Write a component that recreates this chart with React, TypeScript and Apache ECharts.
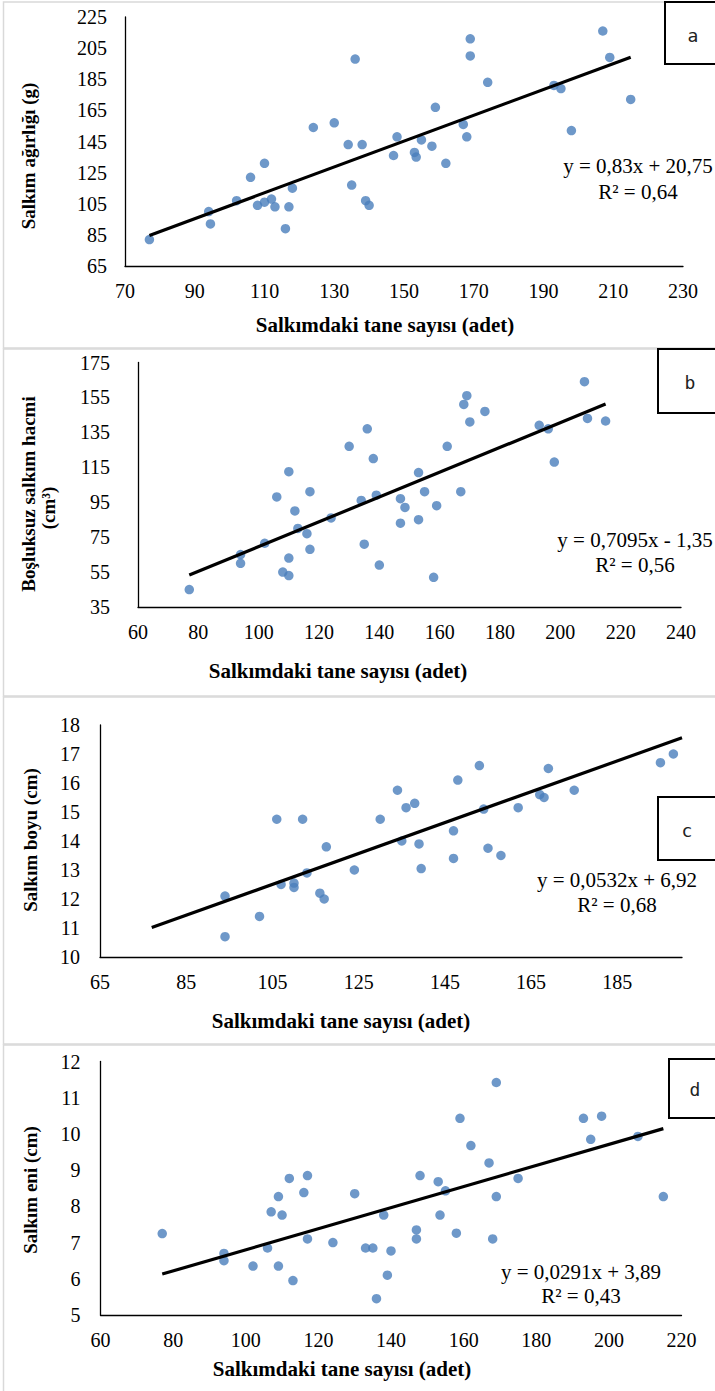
import React, { useEffect, useRef } from "react";
import * as echarts from "echarts";

// ---------- data ----------
const weightPoints: number[][] = [
  [77, 82], [94, 100], [94.5, 92], [102, 107], [106, 122], [108, 104], [110, 131], [110, 106],
  [112, 108], [113, 103], [116, 89], [117, 103], [118, 115], [124, 154], [130, 157], [134, 143],
  [135, 117], [136, 198], [138, 143], [139, 107], [140, 104], [147, 136], [148, 148], [153, 138],
  [153.5, 135], [155, 146], [158, 142], [159, 167], [162, 131], [167, 156], [168, 148], [169, 211],
  [169, 200], [174, 183], [193, 181], [195, 179], [198, 152], [207, 216], [209, 199], [215, 172],
];
const volumePoints: number[][] = [
  [77, 45], [94, 65], [94, 60], [102, 71.5], [106, 98], [108, 55], [110, 112.5], [110, 63],
  [110, 53], [112, 90], [113, 80], [116, 77], [117, 68], [117, 101], [124, 86], [130, 127],
  [134, 96], [135, 71], [136, 137], [138, 120], [139, 99], [140, 59], [147, 97], [148.5, 92],
  [147, 83], [153, 112], [153, 85], [155, 101], [158, 52], [159, 93], [162.5, 127], [167, 101],
  [168, 151], [169, 156], [170, 141], [175, 147], [193, 139], [196, 137], [198, 118], [208, 164],
  [209, 143], [215, 141.5],
];
const lengthPoints: number[][] = [
  [94, 10.7], [94, 12.1], [102, 11.4], [106, 14.75], [107, 12.5], [110, 12.55], [110, 12.4],
  [112, 14.75], [113, 12.9], [116, 12.2], [117, 12.0], [117.5, 13.8], [124, 13.0], [130, 14.75],
  [134, 15.75], [136, 15.15], [138, 15.3], [135, 14.0], [139, 13.9], [139.5, 13.05], [147, 14.35],
  [147, 13.4], [148, 16.1], [153, 16.6], [154, 15.1], [155, 13.75], [158, 13.5], [162, 15.15],
  [167, 15.6], [168, 15.5], [169, 16.5], [175, 15.75], [195, 16.7], [198, 17.0],
];
const widthPoints: number[][] = [
  [77, 7.25], [94, 6.7], [94, 6.5], [102, 6.35], [106, 6.85], [107, 7.85], [109, 8.27], [110, 7.76],
  [109, 6.35], [112, 8.77], [113, 5.95], [116, 8.38], [117, 8.85], [117, 7.1], [124, 7.0], [130, 8.35],
  [133, 6.85], [135, 6.85], [136, 5.45], [138, 7.76], [140, 6.77], [139, 6.1], [148, 8.85], [147, 7.35],
  [147, 7.1], [153, 8.68], [155, 8.43], [153.5, 7.76], [158, 7.26], [159, 10.43], [162, 9.68], [167, 9.2],
  [169, 11.42], [169, 8.27], [168, 7.1], [175, 8.77], [193, 10.43], [198, 10.49], [195, 9.85], [208, 9.93],
  [215, 8.27],
];

// trendlines: slope, intercept, x range
const slopes = [0.83, 0.7095, 0.0532, 0.0291];
const intercepts = [20.75, -1.35, 6.92, 3.89];
const trendStart = [77, 77, 77, 77];
const trendEnd = [215, 215, 200, 215];

// axis ticks
const xTicksA = [70, 90, 110, 130, 150, 170, 190, 210, 230];
const yTicksA = [65, 85, 105, 125, 145, 165, 185, 205, 225];
const xTicksB = [60, 80, 100, 120, 140, 160, 180, 200, 220, 240];
const yTicksB = [35, 55, 75, 95, 115, 135, 155, 175];
const xTicksC = [65, 85, 105, 125, 145, 165, 185];
const xMaxC = 200;
const yTicksC = [10, 11, 12, 13, 14, 15, 16, 17, 18];
const xTicksD = [60, 80, 100, 120, 140, 160, 180, 200, 220];
const yTicksD = [5, 6, 7, 8, 9, 10, 11, 12];

const xTitle = "Salkımdaki tane sayısı (adet)";
const yTitles = ["Salkım ağırlığı (g)", "Boşluksuz salkım hacmi", "Salkım boyu (cm)", "Salkım eni (cm)"];
const equations = ["y = 0,83x + 20,75", "y = 0,7095x - 1,35", "y = 0,0532x + 6,92", "y = 0,0291x + 3,89"];
const r2s = ["R² = 0,64", "R² = 0,56", "R² = 0,68", "R² = 0,43"];
const letters = ["a", "b", "c", "d"];

const FONT = "'Liberation Serif', 'Times New Roman', serif";
const DOT = "#4a7ebb";

export default function App() {
  const ref = useRef<HTMLDivElement>(null);
  useEffect(() => {
    if (!ref.current) return;
    const chart = echarts.init(ref.current, undefined, { renderer: "svg" });

    const grids = [
      { left: 125, top: 17, width: 558, height: 249 },
      { left: 138, top: 362.5, width: 543, height: 244.5 },
      { left: 100, top: 725, width: 582, height: 232 },
      { left: 100.5, top: 1061.5, width: 581, height: 253.5 },
    ];
    const xTicks = [xTicksA, xTicksB, xTicksC, xTicksD];
    const yTicks = [yTicksA, yTicksB, yTicksC, yTicksD];
    const xMax = [xTicksA[xTicksA.length - 1], xTicksB[xTicksB.length - 1], xMaxC, xTicksD[xTicksD.length - 1]];
    const yLabelMargin = [18, 28, 20, 20];
    const pts = [weightPoints, volumePoints, lengthPoints, widthPoints];

    const axisLine = { show: true, lineStyle: { color: "#000", width: 1.3 } };
    const labelStyle = { color: "#000", fontFamily: FONT, fontSize: 20 };

    const xAxis = grids.map((_, i) => ({
      type: "value",
      gridIndex: i,
      min: xTicks[i][0],
      max: xMax[i],
      axisLine,
      axisTick: { show: false },
      splitLine: { show: false },
      axisLabel: { ...labelStyle, margin: 15, customValues: xTicks[i] },
    }));
    const yAxis = grids.map((_, i) => ({
      type: "value",
      gridIndex: i,
      min: yTicks[i][0],
      max: yTicks[i][yTicks[i].length - 1],
      axisLine,
      axisTick: { show: false },
      splitLine: { show: false },
      axisLabel: { ...labelStyle, margin: yLabelMargin[i], customValues: yTicks[i] },
    }));

    const series: any[] = [];
    pts.forEach((p, i) => {
      series.push({
        type: "scatter",
        xAxisIndex: i,
        yAxisIndex: i,
        data: p,
        symbolSize: 9.5,
        itemStyle: { color: DOT },
        z: 3,
      });
      series.push({
        type: "line",
        xAxisIndex: i,
        yAxisIndex: i,
        data: [
          [trendStart[i], slopes[i] * trendStart[i] + intercepts[i]],
          [trendEnd[i], slopes[i] * trendEnd[i] + intercepts[i]],
        ],
        symbol: "none",
        lineStyle: { color: "#000", width: 3.2 },
        z: 4,
      });
    });

    const panelTops = [2, 349, 697, 1045];
    const panelHeights = [346, 347, 347, 350];
    const boxes = [
      { x: 665, y: 2, w: 60, h: 62, tx: 693, ty: 35 },
      { x: 658, y: 349, w: 60, h: 64, tx: 690, ty: 382 },
      { x: 658, y: 797, w: 60, h: 63, tx: 687, ty: 830 },
      { x: 669, y: 1059, w: 60, h: 59, tx: 695, ty: 1089 },
    ];
    const xTitlePos = [[385, 325], [338, 671], [341, 1021], [342, 1369]];
    const eqPos = [[638, 166, 192], [635, 540, 565], [617, 880, 905], [581, 1272, 1296]];
    const yTitlePos = [[28, 156], [28, 494], [30, 840], [30, 1190]];

    const graphic: any[] = [];
    panelTops.forEach((t, i) => {
      graphic.push({
        type: "rect",
        shape: { x: 3.5, y: t, width: 730, height: panelHeights[i] },
        style: { fill: "none", stroke: "#d9d9d9", lineWidth: 1.5 },
        silent: true,
        z: 0,
      });
    });
    boxes.forEach((b, i) => {
      graphic.push({
        type: "rect",
        shape: { x: b.x, y: b.y, width: b.w, height: b.h },
        style: { fill: "#fff", stroke: "#000", lineWidth: 2 },
        z: 10,
      });
      graphic.push({
        type: "text",
        x: b.tx,
        y: b.ty,
        style: { text: letters[i], fontFamily: "'DejaVu Sans Mono', monospace", fontSize: 18, fill: "#222", align: "center", verticalAlign: "middle" },
        z: 11,
      });
    });
    xTitlePos.forEach((p) => {
      graphic.push({
        type: "text",
        x: p[0],
        y: p[1],
        style: { text: xTitle, fontFamily: FONT, fontSize: 21, fontWeight: "bold", fill: "#000", align: "center", verticalAlign: "middle" },
        z: 10,
      });
    });
    eqPos.forEach((p, i) => {
      graphic.push({
        type: "text",
        x: p[0],
        y: p[1],
        style: { text: equations[i], fontFamily: FONT, fontSize: 21, fill: "#000", align: "center", verticalAlign: "middle" },
        z: 10,
      });
      graphic.push({
        type: "text",
        x: p[0],
        y: p[2],
        style: { text: r2s[i], fontFamily: FONT, fontSize: 21, fill: "#000", align: "center", verticalAlign: "middle" },
        z: 10,
      });
    });
    yTitlePos.forEach((p, i) => {
      graphic.push({
        type: "text",
        x: p[0],
        y: p[1],
        rotation: Math.PI / 2,
        style: { text: yTitles[i], fontFamily: FONT, fontSize: 19, fontWeight: "bold", fill: "#000", align: "center", verticalAlign: "middle" },
        z: 10,
      });
    });
    graphic.push({
      type: "text",
      x: 48,
      y: 508,
      rotation: Math.PI / 2,
      style: { text: "(cm³)", fontFamily: FONT, fontSize: 19, fontWeight: "bold", fill: "#000", align: "center", verticalAlign: "middle" },
      z: 10,
    });

    chart.setOption({
      animation: false,
      backgroundColor: "#fff",
      grid: grids.map((g) => ({ ...g, containLabel: false })),
      xAxis,
      yAxis,
      series,
      graphic,
    });
    return () => chart.dispose();
  }, []);
  return <div ref={ref} style={{ position: "absolute", left: 0, top: 0, width: 715, height: 1391 }} />;
}
